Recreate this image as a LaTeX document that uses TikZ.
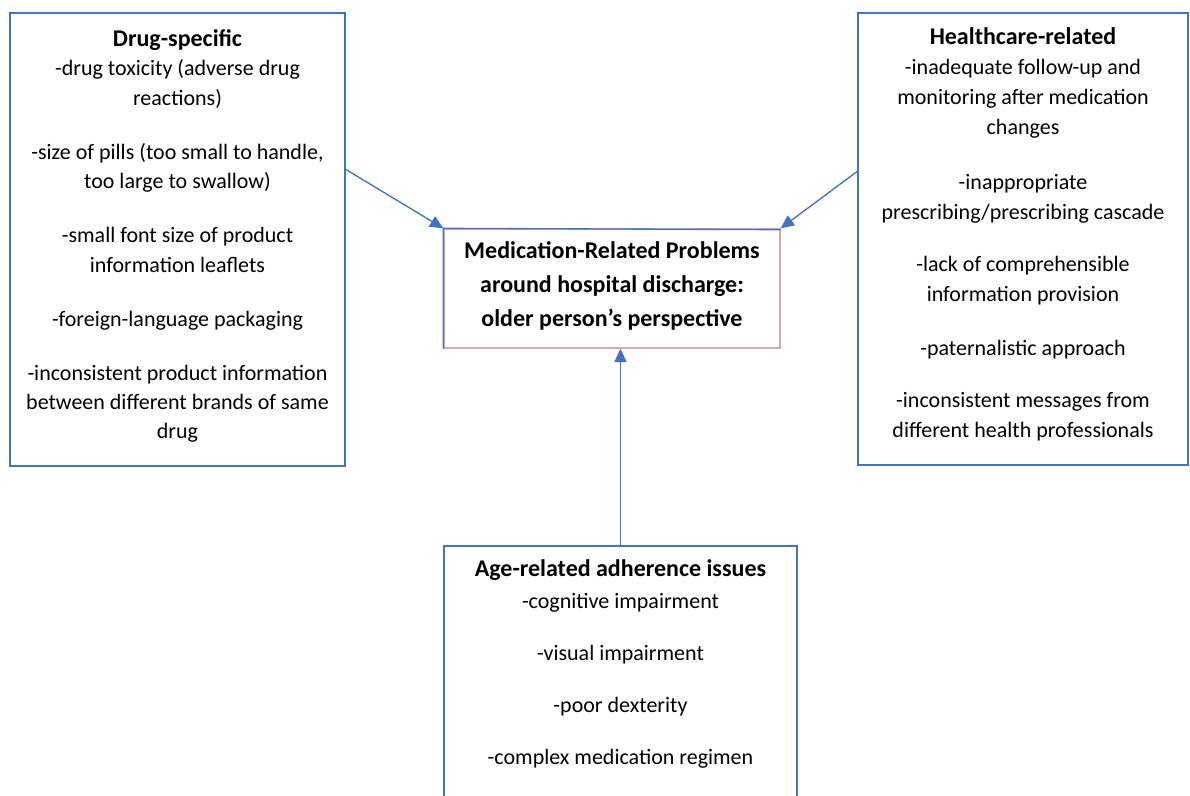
\documentclass[tikz,border=0pt]{standalone}
\usepackage{fontspec}
\setmainfont{Carlito}
\usetikzlibrary{arrows.meta}
\definecolor{lineblue}{HTML}{4472C4}
\definecolor{boxpink}{HTML}{D4AAAA}
\newcommand{\hdg}[1]{{\fontsize{18}{22}\selectfont\bfseries #1}}
\tikzset{
  panel/.style={draw=lineblue, line width=1pt, inner sep=0pt, fill=none},
  txt/.style={align=center, inner sep=0pt, font=\fontsize{16.5}{22.1}\selectfont, text=black},
  arr/.style={draw=lineblue, line width=1pt, -{Triangle[length=10pt,width=9pt]}, fill=lineblue}
}
\begin{document}
\begin{tikzpicture}[x=0.75pt,y=-0.75pt]
\clip (0,0) rectangle (1190,796);
\fill[white] (0,0) rectangle (1190,796);

% boxes
\node[panel, minimum width=251.25pt, minimum height=339.75pt] (L) at (177.5,239.5) {};
\node[panel, minimum width=247.5pt, minimum height=339pt] (R) at (1023,239) {};
\node[draw=boxpink, line width=1pt, inner sep=0pt, minimum width=252pt, minimum height=89.25pt] (C) at (612,288.5) {};
\draw[lineblue, line width=1pt] (C.south west) -- (C.north west) -- ([yshift=-1pt]C.north east);
\node[panel, minimum width=264.75pt, minimum height=240pt] (B) at (620.5,706) {};

% texts
\node[txt, anchor=north] (Lt) at (177.5,29) {\hdg{Drug-specific}\\
-drug toxicity (adverse drug\\ reactions)\\[18.4pt]
-size of pills (too small to handle,\\ too large to swallow)\\[18.4pt]
-small font size of product\\ information leaflets\\[18.4pt]
-foreign-language packaging\\[18.4pt]
-inconsistent product information\\ between different brands of same\\ drug};

\node[txt, anchor=north, font=\fontsize{16.5}{22.6}\selectfont] (Rt) at (1023,27) {\hdg{Healthcare-related}\\
-inadequate follow-up and\\ monitoring after medication\\ changes\\[18.6pt]
-inappropriate\\ prescribing/prescribing cascade\\[16.6pt]
-lack of comprehensible\\ information provision\\[17.3pt]
-paternalistic approach\\[16.6pt]
-inconsistent messages from\\ different health professionals};

\node[txt, anchor=north, font=\fontsize{18}{25.5}\selectfont\bfseries] (Ct) at (612,241) {Medication-Related Problems\\ around hospital discharge:\\ older person’s perspective};

\node[txt, anchor=north] (Bt) at (620.5,559.5) {\hdg{Age-related adherence issues}\\[2pt]
-cognitive impairment\\[16.9pt]
-visual impairment\\[16.9pt]
-poor dexterity\\[16.9pt]
-complex medication regimen};

% connectors
\draw[arr] ([yshift=-117.75pt]L.north east) -- (C.north west);
\draw[arr] ([yshift=-119.25pt]R.north west) -- (C.north east);
\draw[arr] (B.north) -- (B.north |- C.south);
\end{tikzpicture}
\end{document}
